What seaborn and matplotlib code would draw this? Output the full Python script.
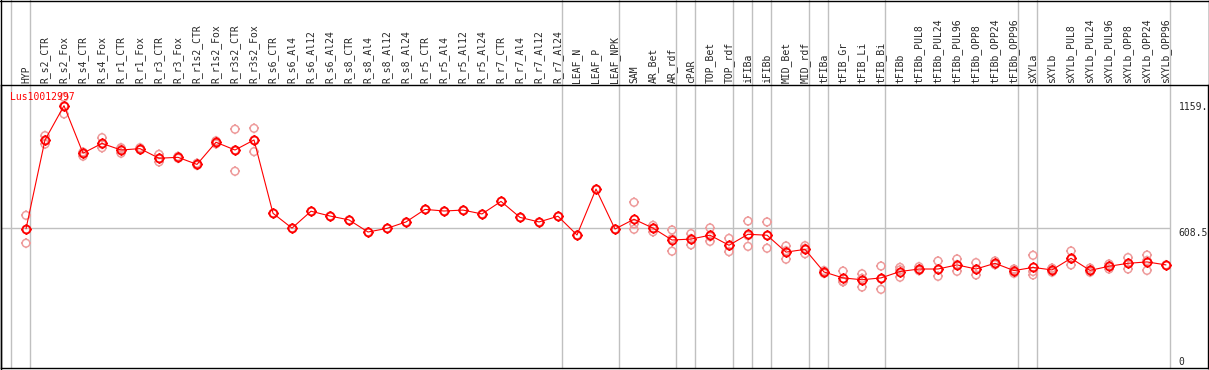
import numpy as np
import pandas as pd
import matplotlib.pyplot as plt
import seaborn as sns
from matplotlib.path import Path
from matplotlib.lines import Line2D
from matplotlib.transforms import blended_transform_factory

sns.set_style("white")
plt.rcParams['font.family'] = ['DejaVu Sans Mono', 'DejaVu Sans']

gene = 'Lus10012997'

samples = ['HYP', 'R_s2_CTR', 'R_s2_Fox', 'R_s4_CTR', 'R_s4_Fox', 'R_r1_CTR', 'R_r1_Fox',
           'R_r3_CTR', 'R_r3_Fox', 'R_r1s2_CTR', 'R_r1s2_Fox', 'R_r3s2_CTR', 'R_r3s2_Fox',
           'R_s6_CTR', 'R_s6_Al4', 'R_s6_Al12', 'R_s6_Al24', 'R_s8_CTR', 'R_s8_Al4',
           'R_s8_Al12', 'R_s8_Al24', 'R_r5_CTR', 'R_r5_Al4', 'R_r5_Al12', 'R_r5_Al24',
           'R_r7_CTR', 'R_r7_Al4', 'R_r7_Al12', 'R_r7_Al24', 'LEAF_N', 'LEAF_P', 'LEAF_NPK',
           'SAM', 'AR_Bet', 'AR_rdf', 'cPAR', 'TOP_Bet', 'TOP_rdf', 'iFIBa', 'iFIBb',
           'MID_Bet', 'MID_rdf', 'tFIBa', 'tFIB_Gr', 'tFIB_Li', 'tFIB_Bi', 'tFIBb',
           'tFIBb_PUL8', 'tFIBb_PUL24', 'tFIBb_PUL96', 'tFIBb_OPP8', 'tFIBb_OPP24',
           'tFIBb_OPP96', 'sXYLa', 'sXYLb', 'sXYLb_PUL8', 'sXYLb_PUL24', 'sXYLb_PUL96',
           'sXYLb_OPP8', 'sXYLb_OPP24', 'sXYLb_OPP96']

mean_expr = [605, 994, 1144, 936, 979, 950, 956, 914, 918, 887, 984, 950, 994,
             673, 608, 682, 661, 644, 591, 607, 635, 690, 683, 687, 670,
             725, 655, 635, 660, 578, 779, 604,
             647, 608, 556, 560, 577, 533, 581, 577, 503, 515,
             416, 390, 382, 390, 418, 429, 429, 447, 429, 454, 422,
             436, 425, 476, 423, 441, 454, 460, 447]

replicates = [
    [664, 602, 542], [1013, 994, 976], [1181, 1144, 1108], [941, 935, 923],
    [1004, 975, 960], [960, 955, 936], [960, 956, 951], [931, 913, 898],
    [922, 918, 914], [892, 887, 883], [990, 984, 977], [1041, 950, 857],
    [1045, 994, 943],
    [673], [608], [682], [661], [644], [591], [607], [635], [690], [683], [687],
    [670], [725], [655], [635], [660], [578], [779], [604],
    [721, 626, 603], [620, 608, 592], [600, 562, 507], [584, 562, 535],
    [609, 571, 550], [563, 530, 505], [639, 575, 528], [635, 575, 520],
    [530, 509, 472], [531, 519, 496], [422, 416, 410], [420, 375, 373],
    [408, 388, 350], [442, 386, 340], [436, 425, 393], [439, 428, 422],
    [464, 426, 397], [473, 448, 419], [457, 428, 403], [464, 452, 448],
    [429, 425, 410], [489, 418, 403], [433, 426, 415], [508, 473, 447],
    [433, 423, 415], [451, 442, 429], [479, 454, 429], [490, 466, 423], [447]]

# group separators sit just right of these sample indices
sep_after = [-1, 0, 28, 31, 34, 35, 37, 38, 39, 41, 42, 45, 52, 53, 60]

right_ticks = [1159, 608.5, 0]
right_labels = ['1159.', '608.5', '0']
mid_value = 608.5

df_mean = pd.DataFrame({'pos': np.arange(len(samples)), 'expr': mean_expr})
df_rep = pd.DataFrame([(i, v) for i, reps in enumerate(replicates) for v in reps],
                      columns=['pos', 'expr'])

# circle marker with four small ticks
t = 1.3
ticks = Path([[0, 1], [0, t], [0, -1], [0, -t], [1, 0], [t, 0], [-1, 0], [-t, 0]],
             [Path.MOVETO, Path.LINETO] * 4)
mk = Path.make_compound_path(Path.circle((0, 0), 1.0, readonly=True), ticks)

red = '#ff0000'
faint = '#ee9c9c'
grid = '#c0c0c0'

W, H = 1209, 370
fig = plt.figure(figsize=(W / 100, H / 100), dpi=100)
ax = fig.add_axes([1 / W, 2 / H, 1207 / W, 283 / H])

ax.set_xlim(-25 / 19, 1182 / 19)
ax.set_ylim(-1 * 4.378, 282 * 4.378)

header = 1 + 85 / 283
for s in sep_after:
    ax.axvline(s + 0.21, ymin=0, ymax=header, color=grid, lw=1, clip_on=False, zorder=0)
ax.hlines(mid_value, ax.get_xlim()[0], sep_after[-1] + 0.21, color=grid, lw=1, zorder=0)

sns.scatterplot(data=df_rep, x='pos', y='expr', marker=mk, s=52, facecolor='none',
                edgecolor=faint, linewidth=1.1, ax=ax, zorder=2, legend=False)
sns.lineplot(data=df_mean, x='pos', y='expr', color=red, lw=0.8, marker=mk,
             markersize=7.4, markerfacecolor='none', markeredgecolor=red,
             markeredgewidth=1.3, ax=ax, zorder=3)

ax.xaxis.tick_top()
ax.set_xticks(df_mean['pos'])
ax.set_xticklabels(samples, rotation=90, fontsize=7, ha='center', va='bottom')
ax.tick_params(axis='x', length=0, pad=1.4)
ax.set_yticks([])
ax.set_xlabel('')
ax.set_ylabel('')

for sp in ax.spines.values():
    sp.set_color('black')
    sp.set_linewidth(1)

tr = blended_transform_factory(ax.transAxes, ax.transData)
for v, lab in zip(right_ticks, right_labels):
    ax.text(0.9755, v, lab, transform=tr, fontsize=7, ha='left',
            va='bottom' if v == 0 else 'top')

ax.text(0.0075, 0.975, gene, transform=ax.transAxes, color=red, fontsize=7,
        ha='left', va='top')

# outer frame around the header
fig.add_artist(Line2D([0, 1], [1 - 0.5 / H, 1 - 0.5 / H], color='black', lw=1,
                      transform=fig.transFigure))
fig.add_artist(Line2D([0.5 / W, 0.5 / W], [0, 1], color='black', lw=1,
                      transform=fig.transFigure))
fig.add_artist(Line2D([1 - 0.5 / W, 1 - 0.5 / W], [0, 1], color='black', lw=1,
                      transform=fig.transFigure))

fig.savefig('out.png', dpi=100)
